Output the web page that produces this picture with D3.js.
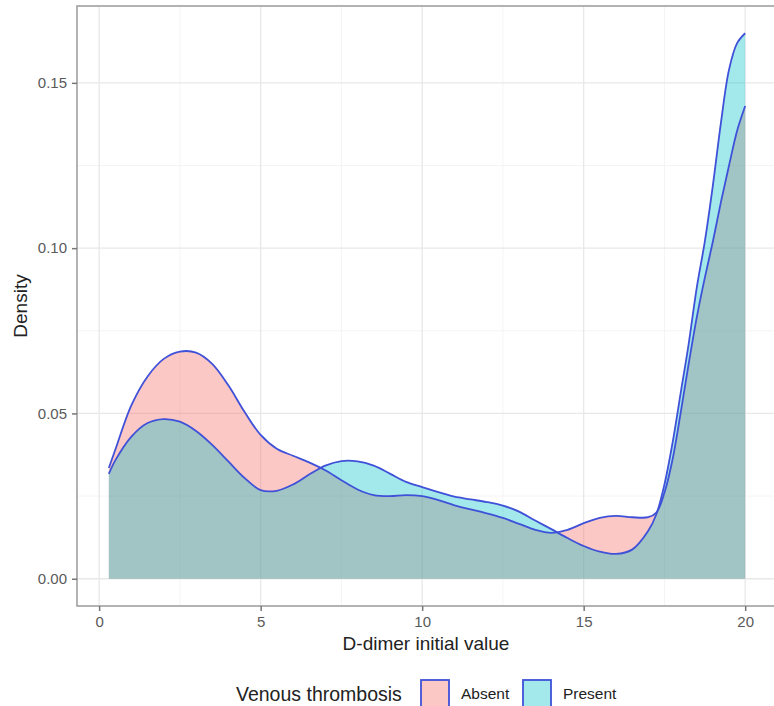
<!DOCTYPE html>
<html>
<head>
<meta charset="utf-8">
<script src="https://cdn.jsdelivr.net/npm/d3@7"></script>
<style>
  html, body { margin: 0; padding: 0; background: #fff; }
  svg { display: block; font-family: "Liberation Sans", Arial, Helvetica, sans-serif; }
</style>
</head>
<body>
<svg id="chart" width="774" height="706"></svg>
<script>
// ---- data ----
const groups = ["Absent", "Present"];
const legendTitle = "Venous thrombosis";
const xTitle = "D-dimer initial value";
const yTitle = "Density";
const xTicks = [0, 5, 10, 15, 20];
const yTicks = [0, 0.05, 0.10, 0.15];

const absentX = [0.3, 0.5, 1.0, 1.5, 2.0, 2.5, 3.0, 3.5, 4.0, 4.5, 5.0, 5.5, 6.0, 6.5, 7.0, 7.5, 8.0, 8.5, 9.0, 9.5, 10.0, 10.5, 11.0, 11.5, 12.0, 12.5, 13.0, 13.5, 14.0, 14.5, 15.0, 15.5, 16.0, 16.5, 17.0, 17.25, 17.5, 17.75, 18.0, 18.25, 18.5, 18.75, 19.0, 19.25, 19.5, 19.75, 20.0];
const absentY = [0.0335, 0.0390, 0.0525, 0.0612, 0.0665, 0.0687, 0.0684, 0.0650, 0.0585, 0.0505, 0.0435, 0.0393, 0.0372, 0.0352, 0.0328, 0.0298, 0.0270, 0.0253, 0.0250, 0.0253, 0.0250, 0.0238, 0.0222, 0.0210, 0.0198, 0.0184, 0.0166, 0.0148, 0.0139, 0.0148, 0.0168, 0.0184, 0.0190, 0.0186, 0.0186, 0.0200, 0.0260, 0.0360, 0.0500, 0.0650, 0.0790, 0.0910, 0.1020, 0.1140, 0.1250, 0.1355, 0.1430];

const presentX = [0.3, 0.5, 1.0, 1.5, 2.0, 2.5, 3.0, 3.5, 4.0, 4.5, 5.0, 5.5, 6.0, 6.5, 7.0, 7.5, 8.0, 8.5, 9.0, 9.5, 10.0, 10.5, 11.0, 11.5, 12.0, 12.5, 13.0, 13.5, 14.0, 14.5, 15.0, 15.5, 16.0, 16.5, 17.0, 17.25, 17.5, 17.75, 18.0, 18.25, 18.5, 18.75, 19.0, 19.25, 19.5, 19.75, 20.0];
const presentY = [0.0317, 0.0358, 0.0430, 0.0471, 0.0483, 0.0475, 0.0447, 0.0405, 0.0355, 0.0305, 0.0268, 0.0266, 0.0285, 0.0315, 0.0342, 0.0356, 0.0355, 0.0342, 0.0318, 0.0293, 0.0277, 0.0262, 0.0248, 0.0240, 0.0232, 0.0221, 0.0203, 0.0176, 0.0150, 0.0123, 0.0099, 0.0082, 0.0075, 0.0088, 0.0145, 0.0195, 0.0285, 0.0410, 0.0560, 0.0710, 0.0880, 0.1020, 0.1190, 0.1380, 0.1540, 0.1620, 0.1650];

const fills = ["#F8766D", "#00BFC4"];
const fillAlpha = [0.4, 0.36];
const outline = "#3f51d8";

// ---- layout ----
const svg = d3.select("#chart");
const panel = { left: 77, top: 6, right: 777, bottom: 606 };

const xDomain = [0.3, 20];
const yDomain = [0, 0.165];
const xPad = (xDomain[1] - xDomain[0]) * 0.05;
const yPad = (yDomain[1] - yDomain[0]) * 0.05;

const x = d3.scaleLinear().domain([xDomain[0] - xPad, xDomain[1] + xPad]).range([panel.left, panel.right]);
const y = d3.scaleLinear().domain([yDomain[0] - yPad, yDomain[1] + yPad]).range([panel.bottom, panel.top]);

const g = svg.append("g");

// grid
const xMinor = xTicks.slice(0, -1).map((d, i) => (d + xTicks[i + 1]) / 2);
const yMinor = yTicks.slice(0, -1).map((d, i) => (d + yTicks[i + 1]) / 2);
g.append("g").selectAll("line").data(xMinor).join("line")
  .attr("x1", d => x(d)).attr("x2", d => x(d)).attr("y1", panel.top).attr("y2", panel.bottom)
  .attr("stroke", "#f4f4f4").attr("stroke-width", 1);
g.append("g").selectAll("line").data(yMinor).join("line")
  .attr("y1", d => y(d)).attr("y2", d => y(d)).attr("x1", panel.left).attr("x2", panel.right)
  .attr("stroke", "#f4f4f4").attr("stroke-width", 1);
g.append("g").selectAll("line").data(xTicks).join("line")
  .attr("x1", d => x(d)).attr("x2", d => x(d)).attr("y1", panel.top).attr("y2", panel.bottom)
  .attr("stroke", "#e8e8e8").attr("stroke-width", 1.3);
g.append("g").selectAll("line").data(yTicks).join("line")
  .attr("y1", d => y(d)).attr("y2", d => y(d)).attr("x1", panel.left).attr("x2", panel.right)
  .attr("stroke", "#e8e8e8").attr("stroke-width", 1.3);

// densities
const series = [
  { name: groups[0], xs: absentX, ys: absentY, fill: fills[0], a: fillAlpha[0] },
  { name: groups[1], xs: presentX, ys: presentY, fill: fills[1], a: fillAlpha[1] }
];
const curve = d3.curveCatmullRom.alpha(0.5);
const area = d3.area().x(d => x(d[0])).y0(y(0)).y1(d => y(d[1])).curve(curve);
const line = d3.line().x(d => x(d[0])).y(d => y(d[1])).curve(curve);

series.forEach(s => {
  const pts = s.xs.map((v, i) => [v, s.ys[i]]);
  g.append("path").attr("d", area(pts)).attr("fill", s.fill).attr("fill-opacity", s.a);
});
series.forEach(s => {
  const pts = s.xs.map((v, i) => [v, s.ys[i]]);
  g.append("path").attr("d", line(pts)).attr("fill", "none")
    .attr("stroke", outline).attr("stroke-width", 1.8).attr("stroke-linejoin", "round");
});

// panel border
g.append("rect").attr("x", panel.left).attr("y", panel.top)
  .attr("width", panel.right - panel.left).attr("height", panel.bottom - panel.top)
  .attr("fill", "none").attr("stroke", "#a0a0a0").attr("stroke-width", 1.6);

// axes
const xAxis = d3.axisBottom(x).tickValues(xTicks).tickFormat(d3.format("d")).tickSize(5).tickPadding(5);
const yAxis = d3.axisLeft(y).tickValues(yTicks).tickFormat(d3.format(".2f")).tickSize(5).tickPadding(5);

const gx = svg.append("g").attr("transform", `translate(0,${panel.bottom})`).call(xAxis);
const gy = svg.append("g").attr("transform", `translate(${panel.left},0)`).call(yAxis);
[gx, gy].forEach(ax => {
  ax.select(".domain").remove();
  ax.selectAll(".tick line").attr("stroke", "#777").attr("stroke-width", 1.5);
  ax.selectAll(".tick text").attr("fill", "#5a5a5a").style("font-size", "15px");
});

// titles
svg.append("text").attr("x", (panel.left + panel.right) / 2 - 1).attr("y", 650)
  .attr("text-anchor", "middle").style("font-size", "19px").attr("fill", "#222").text(xTitle);
svg.append("text").attr("transform", `translate(27,${(panel.top + panel.bottom) / 2}) rotate(-90)`)
  .attr("text-anchor", "middle").style("font-size", "19px").attr("fill", "#222").text(yTitle);

// legend
const leg = svg.append("g");
leg.append("text").attr("x", 236).attr("y", 701).style("font-size", "19.5px").attr("fill", "#222").text(legendTitle);
const keyX = [421, 523];
groups.forEach((name, i) => {
  leg.append("rect").attr("x", keyX[i]).attr("y", 680).attr("width", 28).attr("height", 30)
    .attr("fill", "#fff");
  leg.append("rect").attr("x", keyX[i]).attr("y", 680).attr("width", 28).attr("height", 30)
    .attr("fill", fills[i]).attr("fill-opacity", fillAlpha[i]).attr("stroke", outline).attr("stroke-width", 1.8);
  leg.append("text").attr("x", keyX[i] + 40).attr("y", 699).style("font-size", "15.5px").attr("fill", "#222").text(name);
});
</script>
</body>
</html>
